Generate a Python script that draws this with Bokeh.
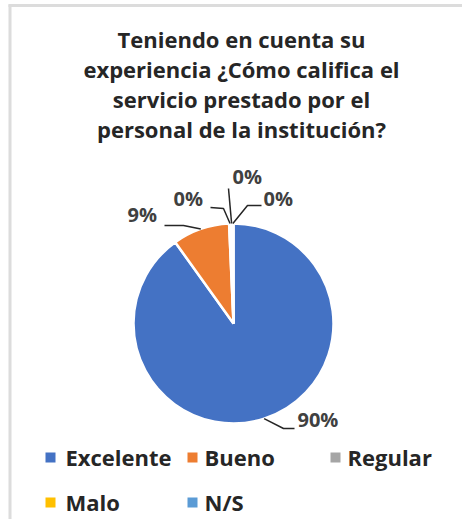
import math
from bokeh.plotting import figure
from bokeh.models import Range1d, ColumnDataSource
from bokeh.core.properties import value
from bokeh.embed import file_html
from bokeh.resources import INLINE

# ---- data ----
categories = ["Excelente", "Bueno", "Regular", "Malo", "N/S"]
shares = [90.1, 9.2, 0.3, 0.2, 0.2]
colors = ["#4472C4", "#ED7D31", "#A5A5A5", "#FFC000", "#5B9BD5"]
title_lines = ["Teniendo en cuenta su", "experiencia ¿Cómo califica el",
               "servicio prestado por el", "personal de la institución?"]

# ---- layout (picture pixel coordinates) ----
W, H = 462, 519
FONT = "Open Sans"
TEXT_DY = 9  # renderer places alphabetic baseline this much lower
def X(px):
    return px
def Y(py):
    return H - py
def TY(py):
    return H - (py - TEXT_DY)

CX, CY, R = 233, 323, 100

p = figure(width=W, height=H, output_backend="svg", toolbar_location=None,
           x_range=Range1d(0, W), y_range=Range1d(0, H),
           x_axis_location=None, y_axis_location=None, min_border=0)
p.grid.visible = False
p.outline_line_color = None
p.background_fill_color = "white"
p.border_fill_color = "white"

# frame lines (top / left, as in the cropped reference)
p.segment(x0=[X(9.5), X(8)], y0=[Y(4), Y(5)], x1=[X(9.5), X(W)], y1=[Y(H), Y(5)],
          line_color="#dcdcdc", line_width=3)

# ---- pie wedges (Excel: start at 12 o'clock, clockwise) ----
total = sum(shares)
starts, ends, mids = [], [], []
cum = 0.0
for v in shares:
    f0 = cum / total
    cum += v
    f1 = cum / total
    starts.append(math.pi / 2 - f1 * 2 * math.pi)
    ends.append(math.pi / 2 - f0 * 2 * math.pi)
    mids.append((f0 + f1) / 2)

src = ColumnDataSource(dict(start=starts, end=ends, color=colors, cat=categories))
p.wedge(x=X(CX), y=Y(CY), radius=R, start_angle="start", end_angle="end",
        fill_color="color", line_color="white", line_width=2.5, source=src)

# ---- data labels with leader lines ----
label_pos = [(297, 428), (127, 223), (173, 207), (232, 185), (263, 207)]
leader_elbows = [
    [(294, 428), (283, 428)],
    [(164, 225), (183, 225)],
    [(210, 207), (223, 208)],
    [(228, 188)],
    [(261, 205), (247, 205)],
]
xs, ys = [], []
for i, m in enumerate(mids):
    a = m * 2 * math.pi
    ex, ey = CX + R * math.sin(a), CY - R * math.cos(a)
    pts = leader_elbows[i] + [(ex, ey)]
    xs.append([X(px) for px, _ in pts])
    ys.append([Y(py) for _, py in pts])
p.multi_line(xs=xs, ys=ys, line_color="#262626", line_width=1.5)

labels = [f"{round(v / total * 100)}%" for v in shares]
p.text(x=[X(px) for px, _ in label_pos], y=[TY(py) for _, py in label_pos],
       text=labels, text_font=value(FONT), text_font_style="bold",
       text_font_size="20px", text_color="#404040",
       text_align="left", text_baseline="alphabetic")

# ---- title ----
title_base = [47, 77, 107, 137]
p.text(x=[X(241)] * len(title_lines), y=[TY(b) for b in title_base],
       text=title_lines, text_font=value(FONT), text_font_style="bold",
       text_font_size="22px", text_color="#262626",
       text_align="center", text_baseline="alphabetic")

# ---- legend ----
leg_pos = [(50, 457), (192, 457), (335, 457), (50, 502), (192, 502)]
leg_off = [15, 12, 12, 15, 12]
p.scatter(x=[X(px) for px, _ in leg_pos], y=[Y(py) for _, py in leg_pos],
          marker="square", size=10, fill_color=colors, line_color=None)
p.text(x=[X(px + o) for (px, _), o in zip(leg_pos, leg_off)],
       y=[TY(py + 8) for _, py in leg_pos],
       text=categories, text_font=value(FONT), text_font_style="bold",
       text_font_size="22px", text_color="#262626",
       text_align="left", text_baseline="alphabetic")

open("out.html", "w").write(file_html(p, INLINE))
